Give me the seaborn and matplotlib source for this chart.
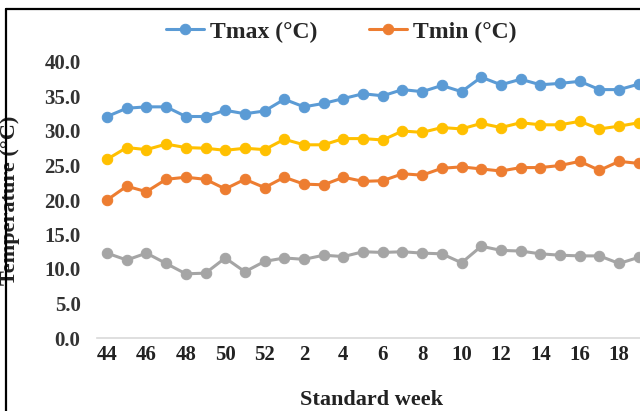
import numpy as np
import pandas as pd
import matplotlib
matplotlib.use("Agg")
import matplotlib.pyplot as plt
from matplotlib.lines import Line2D
import seaborn as sns

weeks = [44, 45, 46, 47, 48, 49, 50, 51, 52, 1, 2, 3, 4, 5, 6, 7, 8, 9, 10,
         11, 12, 13, 14, 15, 16, 17, 18, 19]
tmax = [32.1, 33.3, 33.5, 33.5, 32.1, 32.1, 33.0, 32.5, 32.9, 34.6, 33.5, 34.0,
        34.7, 35.4, 35.1, 36.0, 35.7, 36.6, 35.7, 37.8, 36.7, 37.5, 36.7, 36.9,
        37.2, 36.0, 36.0, 36.8]
tmin = [20.0, 22.0, 21.2, 23.0, 23.3, 23.0, 21.6, 23.0, 21.8, 23.3, 22.3, 22.2,
        23.3, 22.7, 22.8, 23.8, 23.6, 24.6, 24.8, 24.5, 24.2, 24.7, 24.7, 25.0,
        25.6, 24.3, 25.6, 25.3]
tmean = [25.9, 27.6, 27.3, 28.1, 27.6, 27.5, 27.2, 27.5, 27.3, 28.8, 28.0, 28.0,
         28.9, 28.9, 28.7, 30.0, 29.8, 30.5, 30.3, 31.1, 30.5, 31.2, 30.9, 30.9,
         31.4, 30.3, 30.7, 31.2]
trange = [12.3, 11.3, 12.3, 10.8, 9.3, 9.4, 11.6, 9.6, 11.1, 11.6, 11.4, 12.0,
          11.8, 12.5, 12.4, 12.5, 12.3, 12.2, 10.9, 13.3, 12.7, 12.6, 12.2, 12.0,
          11.9, 11.9, 10.8, 11.7]
series_names = ["Tmax (°C)", "Tmin (°C)", "Tmean (°C)", "Diurnal range (°C)"]
colors = ["#5B9BD5", "#ED7D31", "#FFC000", "#A5A5A5"]
y_ticks = [0, 5, 10, 15, 20, 25, 30, 35, 40]

idx = list(range(len(weeks)))
df = pd.DataFrame({"idx": idx * 4,
                   "value": tmax + tmin + tmean + trange,
                   "series": sum([[n] * len(weeks) for n in series_names], [])})

sns.set_style("white")
plt.rcParams["font.family"] = ["Liberation Serif", "DejaVu Serif"]
plt.rcParams["font.weight"] = "bold"

fig = plt.figure(figsize=(6.4, 4.11), dpi=100)
W, H = 640, 411
left_px, right_px = 97.2, 648.7
top_px, bot_px = 62, 338
ax = fig.add_axes([left_px / W, (H - bot_px) / H, (right_px - left_px) / W, (bot_px - top_px) / H])

for name, col in zip(series_names, colors):
    sub = df[df["series"] == name]
    sns.lineplot(data=sub, x="idx", y="value", ax=ax, color=col, marker="o",
                 markersize=7.5, markeredgecolor=col, linewidth=2.2,
                 label=name, clip_on=False)

ax.set_xlim(-0.5, len(weeks) - 0.5)
ax.set_ylim(0, 40)
ax.set_yticks(y_ticks)
ax.set_yticklabels([f"{v:.1f}" for v in y_ticks], fontsize=15, fontweight="bold", color="#333333")
ax.set_xticks(idx[::2])
ax.set_xticklabels([str(w) for w in weeks[::2]], fontsize=15, fontweight="bold", color="#222222")
ax.tick_params(axis="y", length=0, pad=12)
ax.tick_params(axis="x", length=0, pad=5)
for s in ["top", "right", "left"]:
    ax.spines[s].set_visible(False)
ax.spines["bottom"].set_color("#D9D9D9")
ax.spines["bottom"].set_linewidth(1.2)

ax.set_ylabel("Temperature (°C)", fontsize=16, fontweight="bold", color="#222222")
ax.yaxis.set_label_coords(-0.14, 0.5)
ax.set_xlabel("Standard week", fontsize=16, fontweight="bold", color="#222222", va="bottom")
ax.xaxis.set_label_coords(0.497, (bot_px - 410) / (bot_px - top_px))

handles, labels = ax.get_legend_handles_labels()
ax.legend(handles[:2], labels[:2], loc="center", bbox_to_anchor=(341 / W, (H - 32) / H),
          bbox_transform=fig.transFigure, ncol=2, frameon=False,
          prop={"family": "Liberation Serif", "weight": "bold", "size": 17},
          handlelength=1.6, columnspacing=2.2, handletextpad=0.25)

fig.add_artist(Line2D([6 / W, 6 / W], [0, (H - 9) / H], transform=fig.transFigure,
                      color="black", linewidth=1.6))
fig.add_artist(Line2D([6 / W, 1.0], [(H - 9) / H, (H - 9) / H], transform=fig.transFigure,
                      color="black", linewidth=1.6))

fig.savefig("out.png", dpi=100)
